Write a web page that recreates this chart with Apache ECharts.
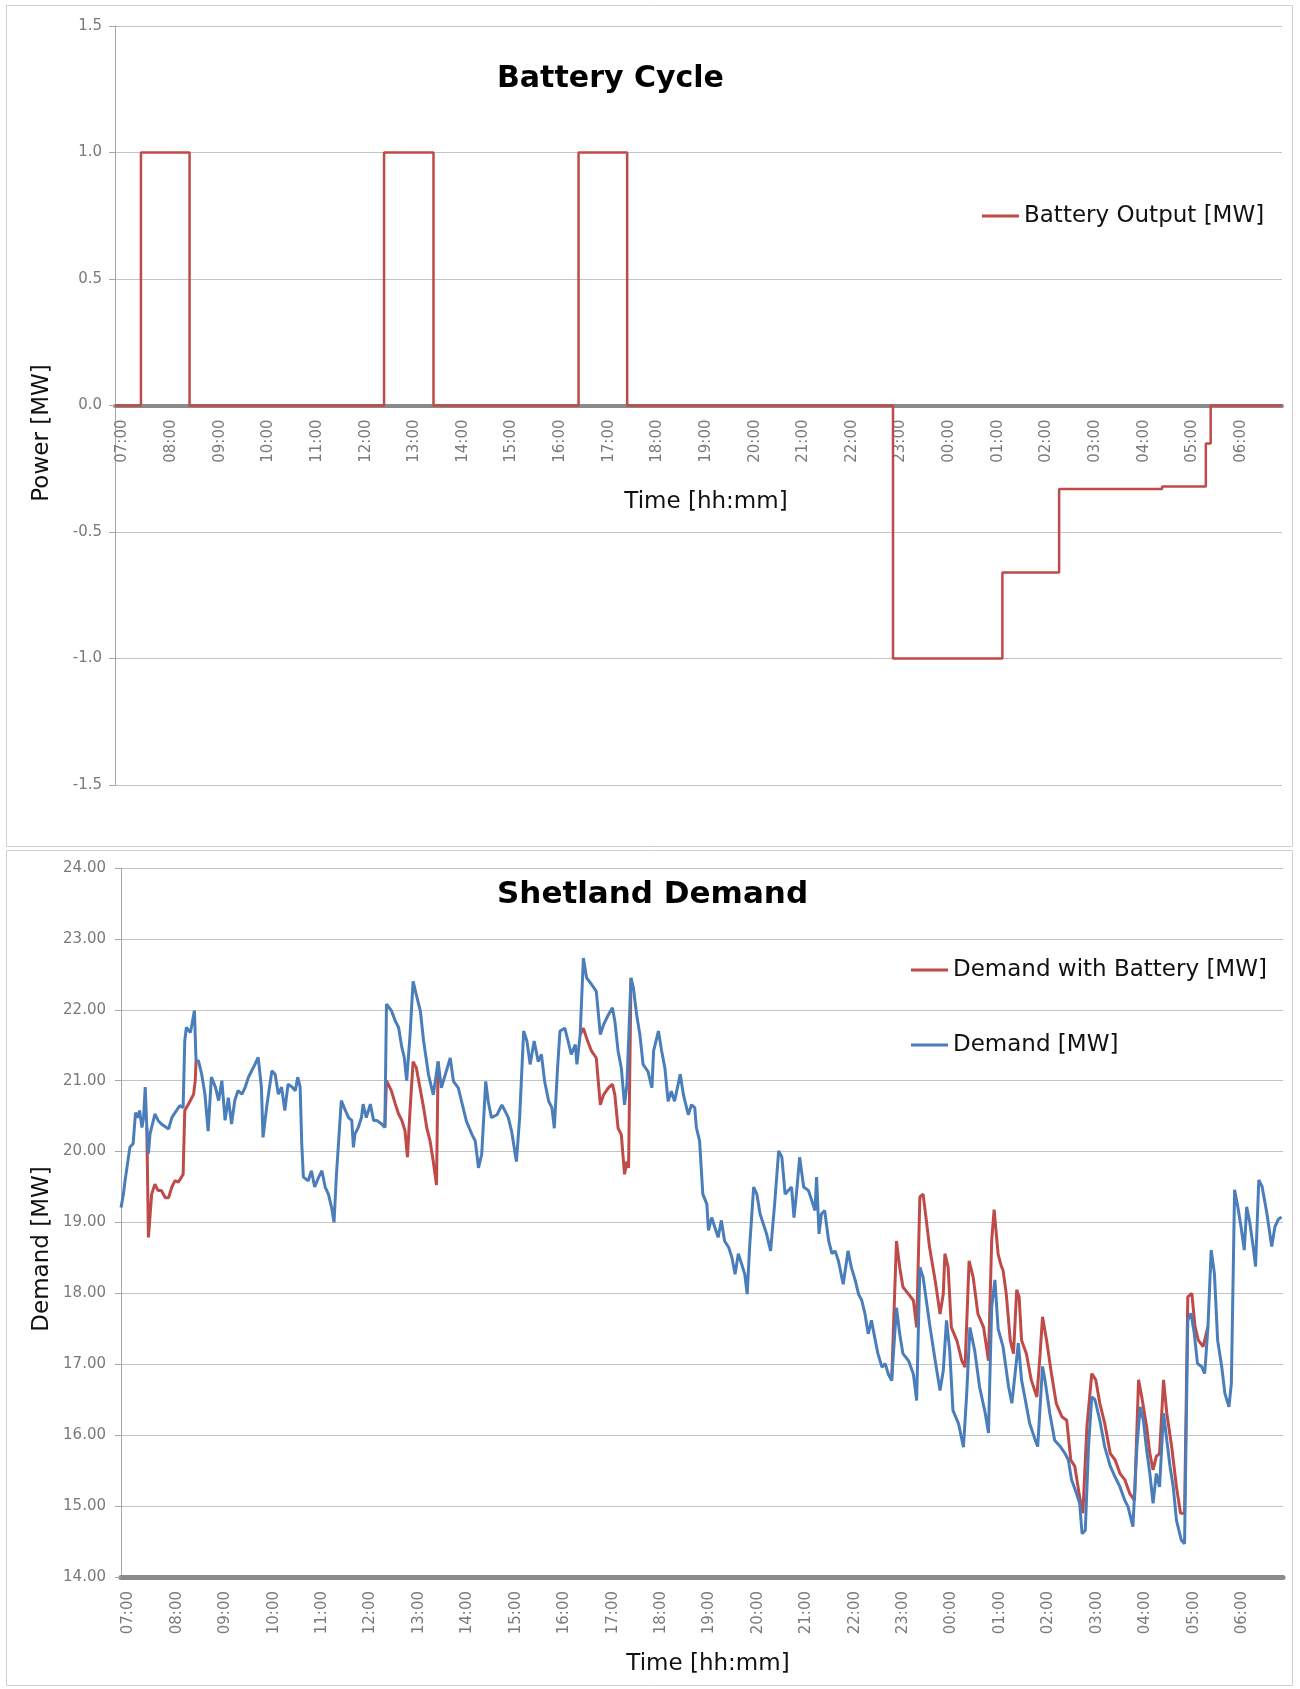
<!DOCTYPE html>
<html>
<head>
<meta charset="utf-8">
<script src="https://cdn.jsdelivr.net/npm/echarts@6/dist/echarts.min.js"></script>
<style>
html,body{margin:0;padding:0;background:#ffffff;}
#c{width:1300px;height:1689px;}
</style>
</head>
<body>
<div id="c"></div>
<script>
// ---- tick labels (one per hour, starting 07:00) ----
const hourLabels = ['07:00','08:00','09:00','10:00','11:00','12:00','13:00','14:00','15:00','16:00','17:00','18:00',
  '19:00','20:00','21:00','22:00','23:00','00:00','01:00','02:00','03:00','04:00','05:00','06:00'];

// ---- Battery Cycle: step changes, minutes after 07:00 -> output [MW] ----
const batteryMin = [0, 32, 92, 332, 393, 572, 632, 960, 1095, 1165, 1292, 1346, 1352, 1440];
const batteryVal = [0, 1, 0, 1, 0, 1, 0, -1, -0.66, -0.33, -0.32, -0.15, 0, 0];

// ---- Shetland Demand [MW], minutes after 07:00 ----
const demandMin = [0,3,5,11,15,18,21,23,26,28,30,32,34,36,42,46,50,59,63,67,73,77,79,81,86,88,91,93,96,100,
  104,108,112,117,121,125,129,133,137,141,145,150,154,158,162,166,170,174,176,181,187,191,195,199,203,207,212,216,219,222,
  224,226,232,236,240,245,249,253,257,261,264,267,273,278,282,286,288,290,294,298,300,304,309,313,317,323,327,329,335,340,
  344,348,351,354,358,362,366,371,375,381,387,393,397,408,412,418,422,428,435,439,443,447,452,455,459,466,472,476,480,484,
  490,494,499,503,507,512,517,521,525,530,534,537,541,544,550,554,558,563,565,569,573,577,583,589,594,598,604,609,612,616,
  620,624,627,632,635,639,643,647,653,658,660,666,670,674,678,682,686,693,697,703,707,711,713,717,721,726,728,732,736,740,
  744,748,753,757,761,765,769,773,776,779,784,788,792,796,800,805,810,815,819,823,827,831,834,837,841,846,852,856,860,862,
  865,868,872,877,881,885,889,895,901,905,910,914,918,922,926,930,934,938,943,947,951,955,961,965,969,976,982,986,990,994,
  998,1002,1009,1015,1019,1023,1027,1031,1038,1044,1048,1052,1058,1064,1071,1075,1079,1083,1087,1093,1100,1104,1108,1112,1116,1120,
  1126,1133,1136,1139,1142,1145,1151,1157,1164,1170,1174,1178,1184,1188,1191,1195,1199,1203,1207,1213,1219,1226,1232,1238,
  1244,1248,1254,1259,1263,1267,1271,1275,1279,1283,1287,1292,1296,1300,1304,1308,1314,1318,1322,1326,1330,1334,1339,1343,
  1347,1351,1355,1359,1364,1368,1373,1376,1380,1384,1388,1392,1395,1399,1403,1406,1410,1414,1420,1426,1430,1434,1438];
const demandVal = [19.21,19.40,19.59,20.06,20.11,20.55,20.48,20.58,20.34,20.48,20.91,20.34,19.97,20.25,20.53,20.44,20.39,20.32,20.48,20.55,20.65,20.62,21.56,21.75,21.68,21.80,21.99,21.28,21.28,21.09,
  20.81,20.29,21.05,20.91,20.72,21.00,20.44,20.76,20.39,20.72,20.86,20.81,20.91,21.05,21.14,21.23,21.33,20.91,20.20,20.67,21.14,21.09,20.81,20.91,20.58,20.95,20.91,20.86,21.05,20.91,
  20.11,19.64,19.59,19.73,19.50,19.64,19.73,19.50,19.40,19.21,19.00,19.68,20.72,20.58,20.48,20.44,20.06,20.25,20.34,20.48,20.67,20.48,20.67,20.44,20.44,20.39,20.34,22.08,21.99,21.84,
  21.75,21.47,21.33,21.00,21.61,22.40,22.21,21.98,21.56,21.09,20.80,21.27,20.90,21.32,20.99,20.90,20.71,20.43,20.24,20.15,19.77,19.96,20.99,20.71,20.48,20.52,20.66,20.57,20.48,20.29,
  19.86,20.48,21.70,21.56,21.23,21.56,21.27,21.37,20.99,20.71,20.62,20.33,21.18,21.70,21.74,21.56,21.37,21.51,21.23,21.65,22.73,22.45,22.36,22.26,21.65,21.79,21.93,22.03,21.84,21.42,
  21.18,20.66,20.95,22.45,22.31,21.93,21.65,21.23,21.13,20.90,21.42,21.70,21.42,21.18,20.71,20.85,20.71,21.09,20.80,20.52,20.66,20.62,20.34,20.15,19.40,19.26,18.89,19.07,18.93,18.79,
  19.03,18.74,18.65,18.51,18.27,18.56,18.42,18.27,17.99,18.65,19.50,19.40,19.12,18.98,18.84,18.60,19.26,20.01,19.92,19.40,19.45,19.50,19.07,19.40,19.92,19.50,19.45,19.31,19.17,19.64,
  18.84,19.12,19.17,18.74,18.56,18.60,18.46,18.13,18.60,18.37,18.18,17.99,17.90,17.71,17.43,17.62,17.38,17.15,16.96,17.01,16.86,16.77,17.80,17.43,17.15,17.05,16.86,16.49,18.37,18.23,
  17.90,17.57,17.05,16.63,16.91,17.62,17.19,16.35,16.16,15.83,16.58,17.52,17.19,16.68,16.31,16.03,17.81,18.19,17.50,17.25,16.68,16.45,16.87,17.30,16.78,16.54,
  16.17,15.93,15.84,16.40,16.97,16.78,16.31,15.93,15.84,15.74,15.65,15.37,15.18,15.04,14.61,14.66,15.84,16.54,16.50,16.21,15.84,15.56,15.41,15.27,
  15.08,14.99,14.71,15.84,16.40,16.21,15.79,15.46,15.04,15.46,15.27,16.31,15.93,15.56,15.27,14.80,14.52,14.47,17.62,17.72,17.44,17.01,16.97,16.87,
  17.53,18.61,18.28,17.34,16.97,16.59,16.40,16.73,19.46,19.22,18.94,18.61,19.22,18.99,18.66,18.38,19.60,19.51,19.13,18.66,18.94,19.04,19.08];

// ---- Demand with Battery [MW] where it departs from Demand (null = break) ----
const withBatteryMin = [32,34,38,42,46,50,55,59,63,67,71,75,77,79,81,86,90,92,93, null,
  327,329,335,340,344,348,352,355,358,362,366,375,379,383,387,391,393, null,
  569,573,577,583,589,594,598,604,609,612,616,620,624,627,629,632, null,
  955,961,965,969,976,982,986,990,994,998,1002,1009,1015,1019,1021,1025,1029,1036,1042,1046,1051,1056,1062,1069,1075,1079,1082,
  1087,1091,1093,1097,1102,1106,1110,1113,1116,1122,1128,1135,1139,1142,1147,1153,1159,1166,1172,1177,1182,1188,1192,1197,
  1203,1208,1213,1219,1226,1232,1238,1244,1250,1256,1261,1265,1271,1275,1279,1283,1287,1292,1296,1302,1308,1313,1318,1322,
  1327,1331,1335,1341,1347];
const withBatteryVal = [20.34,18.79,19.40,19.54,19.45,19.45,19.35,19.35,19.50,19.59,19.57,19.64,19.68,20.58,20.62,20.72,20.81,21.00,21.28, null,
  20.34,21.00,20.86,20.67,20.53,20.44,20.29,19.92,20.55,21.27,21.18,20.62,20.33,20.15,19.86,19.53,21.27, null,
  21.65,21.74,21.60,21.42,21.32,20.66,20.80,20.90,20.95,20.80,20.33,20.24,19.68,19.86,19.77,22.45, null,
  16.77,18.74,18.37,18.09,17.99,17.90,17.52,19.36,19.40,19.03,18.65,18.18,17.71,17.99,18.56,18.37,17.52,17.33,17.05,16.96,18.46,18.23,17.71,17.52,17.05,18.75,19.18,
  18.55,18.38,18.33,18.00,17.34,17.15,18.05,17.95,17.34,17.15,16.78,16.54,17.15,17.67,17.34,16.87,16.45,16.26,16.21,15.65,15.56,15.13,14.90,16.12,
  16.87,16.78,16.45,16.17,15.74,15.65,15.46,15.37,15.18,15.08,16.78,16.54,16.12,15.74,15.51,15.70,15.74,16.78,16.31,15.84,15.27,14.90,14.90,17.95,
  18.00,17.53,17.34,17.25,17.53];

const FONT = '"DejaVu Sans", sans-serif';
const RED = '#BE4B48';
const BLUE = '#4A7EBB';
const TICK = '#7a7a7a';
const GRID = '#c3c3c3';

function pairs(xs, ys) { return xs.map((x, i) => [x, ys[i]]); }

// split the with-battery series into its visible segments
const redSegments = [];
let cur = [];
withBatteryMin.forEach((m, i) => {
  if (m === null) { if (cur.length) redSegments.push(cur); cur = []; }
  else cur.push([m, withBatteryVal[i]]);
});
if (cur.length) redSegments.push(cur);

const xLabelFmt = v => (v < 1440 && hourLabels[Math.round(v / 60)] !== undefined) ? hourLabels[Math.round(v / 60)] : '';

const TOP_GRID = { left: 115, top: 26, width: 1167, height: 759 };
const BOT_GRID = { left: 121, top: 868, width: 1162, height: 709 };

function xAxisDef(gridIndex, lineWidth, offset) {
  return {
    gridIndex, type: 'value', min: 0, max: 1440, interval: 60, position: 'bottom', offset,
    axisLine: { show: true, onZero: false, lineStyle: { color: '#8a8a8a', width: lineWidth } },
    axisTick: { show: false },
    splitLine: { show: false },
    axisLabel: { rotate: 90, margin: 14, verticalAlign: 'top', formatter: xLabelFmt,
      fontFamily: FONT, fontSize: 15, color: TICK, showMaxLabel: false }
  };
}
function yAxisDef(gridIndex, min, max, interval, digits, margin) {
  return {
    gridIndex, type: 'value', min, max, interval,
    axisLine: { show: true, lineStyle: { color: '#a6a6a6', width: 1 } },
    axisTick: { show: true, length: 6, lineStyle: { color: '#a6a6a6' } },
    splitLine: { show: true, lineStyle: { color: GRID, width: 1 } },
    axisLabel: { margin, formatter: v => v.toFixed(digits), fontFamily: FONT, fontSize: 15, color: TICK }
  };
}

const series = [
  {
    name: 'Battery Output [MW]', type: 'line', xAxisIndex: 0, yAxisIndex: 0,
    data: pairs(batteryMin, batteryVal), step: 'end', showSymbol: false, silent: true,
    lineStyle: { color: RED, width: 2.5 }, itemStyle: { color: RED }
  }
];
redSegments.forEach(seg => series.push({
  name: 'Demand with Battery [MW]', type: 'line', xAxisIndex: 1, yAxisIndex: 1,
  data: seg, showSymbol: false, silent: true,
  lineStyle: { color: RED, width: 3 }, itemStyle: { color: RED }
}));
series.push({
  name: 'Demand [MW]', type: 'line', xAxisIndex: 1, yAxisIndex: 1,
  data: pairs(demandMin, demandVal), showSymbol: false, silent: true,
  lineStyle: { color: BLUE, width: 3 }, itemStyle: { color: BLUE }
});

const legendText = { fontFamily: FONT, fontSize: 23, lineHeight: 26, color: '#111' };
const axisNameFont = '23px "DejaVu Sans", sans-serif';

const option = {
  animation: false,
  backgroundColor: '#ffffff',
  title: [
    { text: 'Battery Cycle', left: 497, top: 64, padding: 0,
      textStyle: { fontFamily: FONT, fontWeight: 'bold', fontSize: 30, color: '#000' } },
    { text: 'Shetland Demand', left: 497, top: 879, padding: 0,
      textStyle: { fontFamily: FONT, fontWeight: 'bold', fontSize: 31, color: '#000' } }
  ],
  legend: [
    { data: ['Battery Output [MW]'], left: 982, top: 203, orient: 'vertical', padding: 0,
      itemWidth: 37, itemHeight: 3, icon: 'rect', selectedMode: false, textStyle: legendText },
    { data: ['Demand with Battery [MW]', 'Demand [MW]'], left: 911, top: 957, orient: 'vertical', padding: 0,
      itemGap: 49, itemWidth: 37, itemHeight: 3, icon: 'rect', selectedMode: false, textStyle: legendText }
  ],
  grid: [TOP_GRID, BOT_GRID],
  // top x axis is shifted up from the grid bottom to the 0.0 line (half the grid height)
  xAxis: [xAxisDef(0, 4, -TOP_GRID.height / 2), xAxisDef(1, 5, 0)],
  yAxis: [yAxisDef(0, -1.5, 1.5, 0.5, 1, 13), yAxisDef(1, 14, 24, 1, 2, 15)],
  series,
  graphic: [
    { type: 'rect', shape: { x: 6.5, y: 5.5, width: 1286, height: 841 }, style: { fill: 'none', stroke: '#d0d0d0', lineWidth: 1 }, silent: true },
    { type: 'rect', shape: { x: 6.5, y: 850.5, width: 1286, height: 835 }, style: { fill: 'none', stroke: '#d0d0d0', lineWidth: 1 }, silent: true },
    { type: 'text', x: 706, y: 502, silent: true,
      style: { text: 'Time [hh:mm]', font: axisNameFont, fill: '#111', align: 'center', verticalAlign: 'middle' } },
    { type: 'text', x: 708, y: 1664, silent: true,
      style: { text: 'Time [hh:mm]', font: axisNameFont, fill: '#111', align: 'center', verticalAlign: 'middle' } },
    { type: 'text', x: 42, y: 433, rotation: Math.PI / 2, silent: true,
      style: { text: 'Power [MW]', font: axisNameFont, fill: '#111', align: 'center', verticalAlign: 'middle' } },
    { type: 'text', x: 42, y: 1249, rotation: Math.PI / 2, silent: true,
      style: { text: 'Demand [MW]', font: axisNameFont, fill: '#111', align: 'center', verticalAlign: 'middle' } }
  ]
};

const chart = echarts.init(document.getElementById('c'), null, { renderer: 'canvas', width: 1300, height: 1689 });
chart.setOption(option);
</script>
</body>
</html>
